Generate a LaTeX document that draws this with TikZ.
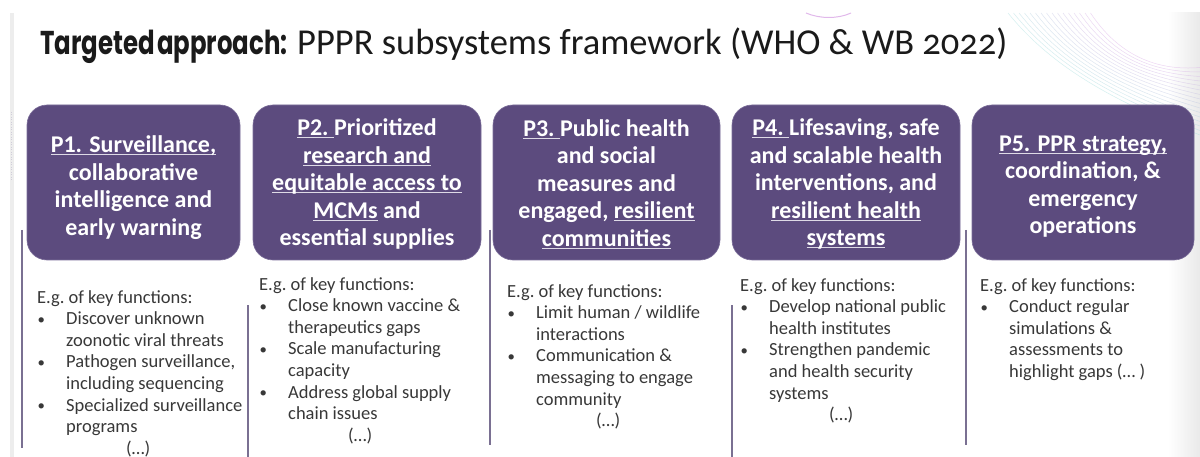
\documentclass[tikz,border=0pt]{standalone}
\usepackage{fontspec}
\usepackage{graphicx}
\setmainfont{Carlito}
\newfontfamily\headfont{Poppins}
\newfontfamily\titlefont{Carlito}[Numbers=OldStyle]

\definecolor{boxpurple}{HTML}{5C4B7E}
\definecolor{boxedge}{HTML}{7B6D99}
\definecolor{rulepurple}{HTML}{7A7092}
\definecolor{listgray}{HTML}{383838}
\definecolor{titleblack}{HTML}{1A1A1A}
\definecolor{ulgray}{HTML}{DEDAE6}
\definecolor{swpink}{HTML}{D9A6E6}
\definecolor{swcyan}{HTML}{9FDCDC}

% underline at a fixed depth below the baseline
\newsavebox\ulbox
\newcommand\ul[1]{\sbox\ulbox{#1}\rlap{\color{ulgray}\rule[-2.6pt]{\wd\ulbox}{1.1pt}}\usebox\ulbox}
% bullet with hanging indent, and the matching continuation indent
\newcommand\bul{\makebox[29pt][l]{\hspace*{0.5pt}\raisebox{0.5pt}{\scalebox{0.8}{\textbullet}}}}
\newcommand\cont{\hspace*{29pt}}
\newcommand\more{\hspace*{89pt}(…)}

\tikzset{
  pbox/.style={fill=boxpurple, draw=boxedge, line width=0.6pt, rounded corners=20pt,
    minimum height=155pt, inner sep=0pt},
  ptext/.style={text=white, align=center, inner sep=0pt,
    font=\fontsize{24}{27.5}\selectfont\bfseries},
  listtxt/.style={anchor=north west, inner sep=0pt, align=left, text=listgray,
    font=\fontsize{18.5}{21.6}\selectfont\frenchspacing},
  divider/.style={draw=rulepurple, line width=1.4pt},
}

\begin{document}
\begin{tikzpicture}[x=1pt, y=-1pt]
\useasboundingbox (0,0) rectangle (1200,457);
\fill[white] (0,0) rectangle (1200,457);

% slide frame: left strip and right shading
\fill[gray!14] (10,13) rectangle (13.5,457);
\shade[left color=white, right color=gray!17] (1168,13) rectangle (1200,457);
\draw[rulepurple!35, line width=1.5pt, dash pattern=on 1pt off 1.5pt] (11.7,112) -- (11.7,180);

% decorative sweep of thin lines, top right
\foreach \i in {0,...,15}{
  \pgfmathsetmacro{\mix}{100*\i/15}
  \draw[line width=0.5pt, draw opacity=0.45, color=swpink!\mix!swcyan]
    (1008+5.5*\i,13) .. controls (1050+5*\i,65) and (1110+4*\i,100-2*\i) .. (1200,135-4.5*\i);
}
\draw[swpink!80, line width=1pt] (806,13) .. controls (820,19) and (838,19) .. (851,13);

% title
\node[anchor=base west, inner sep=0pt, text=titleblack] (t1) at (40,55)
  {\scalebox{0.74}[1]{\headfont\bfseries\fontsize{33}{36}\selectfont Targeted\kern3pt approach:}};
\node[anchor=base west, inner sep=0pt, text=titleblack] (t2) at (297,55)
  {\titlefont\fontsize{36.5}{40}\selectfont PPPR subsystems framework (WHO \& WB 2022)};

% column dividers
\draw[divider] (22,230) -- (22,448);
\draw[divider] (248,305) -- (248,457);
\draw[divider] (490,230) -- (490,445);
\draw[divider] (732,305) -- (732,457);
\draw[divider] (966,230) -- (966,445);

% pillar boxes
\node[pbox, minimum width=213pt] (b1) at (133.5,182.5) {};
\node[pbox, minimum width=228pt] (b2) at (367,182.5) {};
\node[pbox, minimum width=227pt] (b3) at (606.5,182.5) {};
\node[pbox, minimum width=228pt] (b4) at (846,182.5) {};
\node[pbox, minimum width=222pt] (b5) at (1083,182.5) {};

% pillar titles
\node[ptext] (p1) at ([yshift=-5pt]b1.center)
  {\ul{P1. Surveillance,}\\ collaborative\\ intelligence and\\ early warning};
\node[ptext] (p2) at ([yshift=-1.5pt]b2.center)
  {\ul{P2.~}Prioritized\\ \ul{research and}\\ \ul{equitable access to}\\ \ul{MCMs} and\\ essential supplies};
\node[ptext] (p3) at ([yshift=-1.5pt]b3.center)
  {\ul{P3.~}Public health\\ and social\\ measures and\\ engaged, \ul{resilient}\\ \ul{communities}};
\node[ptext] (p4) at ([yshift=-1.5pt]b4.center)
  {\ul{P4.~}Lifesaving, safe\\ and scalable health\\ interventions, and\\ \ul{resilient health}\\ \ul{systems}};
\node[ptext] (p5) at ([yshift=-4pt]b5.center)
  {\ul{P5. PPR strategy,}\\ coordination, \&\\ emergency\\ operations};

% key functions under each pillar
\node[listtxt] (f1) at (37,290) {E.g. of key functions:\\
  \bul Discover unknown\\ \cont zoonotic viral threats\\
  \bul Pathogen surveillance,\\ \cont including sequencing\\
  \bul Specialized surveillance\\ \cont programs\\ \more};
\node[listtxt] (f2) at (259,277) {E.g. of key functions:\\
  \bul Close known vaccine \&\\ \cont therapeutics gaps\\
  \bul Scale manufacturing\\ \cont capacity\\
  \bul Address global supply\\ \cont chain issues\\ \more};
\node[listtxt] (f3) at (507,284) {E.g. of key functions:\\
  \bul Limit human / wildlife\\ \cont interactions\\
  \bul Communication \&\\ \cont messaging to engage\\ \cont community\\ \more};
\node[listtxt] (f4) at (740,278) {E.g. of key functions:\\
  \bul Develop national public\\ \cont health institutes\\
  \bul Strengthen pandemic\\ \cont and health security\\ \cont systems\\ \more};
\node[listtxt] (f5) at (980,278) {E.g. of key functions:\\
  \bul Conduct regular\\ \cont simulations \&\\ \cont assessments to\\ \cont highlight gaps (… )};
\end{tikzpicture}
\end{document}
